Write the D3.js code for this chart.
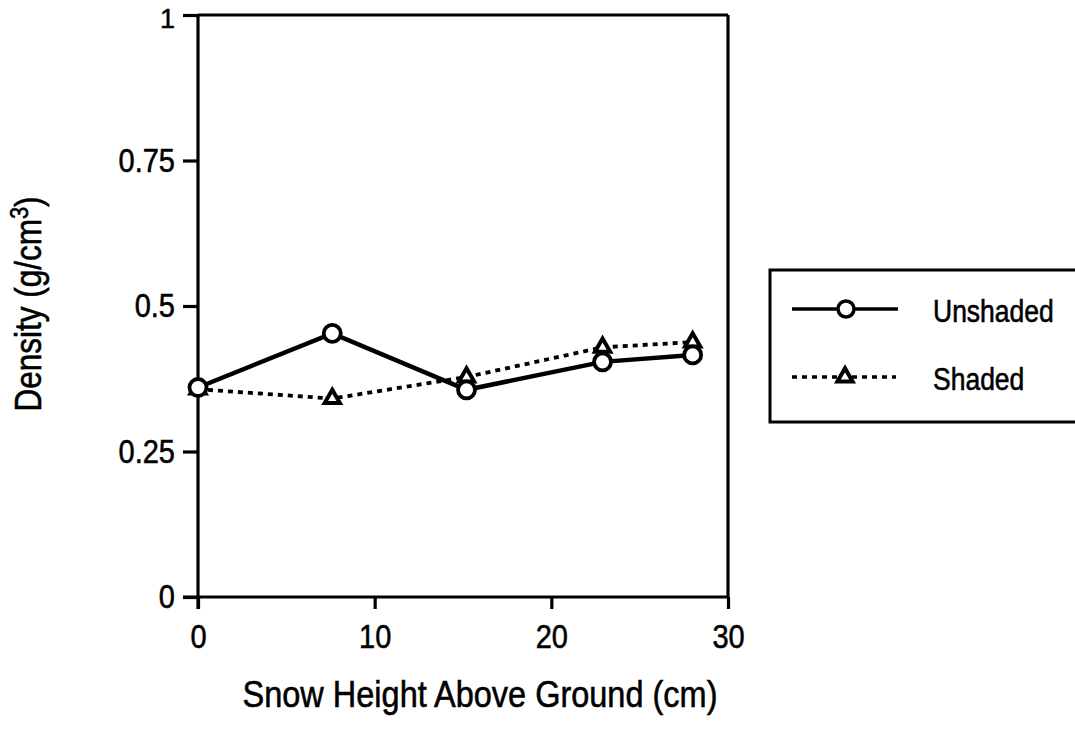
<!DOCTYPE html>
<html>
<head>
<meta charset="utf-8">
<script src="https://cdn.jsdelivr.net/npm/d3@7"></script>
<style>
  html, body { margin: 0; padding: 0; background: #fff; }
  svg { display: block; }
  text { font-family: "Liberation Sans", Arial, Helvetica, sans-serif; fill: #000; stroke: #000; stroke-width: 0.5px; }
</style>
</head>
<body>
<svg id="chart" width="1075" height="744"></svg>
<script>
// ---- data ----
const heights = [0, 7.6, 15.2, 22.9, 28];
const unshaded = [0.360, 0.453, 0.356, 0.404, 0.416];
const shaded = [0.357, 0.341, 0.378, 0.429, 0.438];
const xTicks = [0, 10, 20, 30];
const yTicks = [0, 0.25, 0.5, 0.75, 1];
const yTickLabels = ["0", "0.25", "0.5", "0.75", "1"];
const seriesNames = ["Unshaded", "Shaded"];

const svg = d3.select("#chart");
const x = d3.scaleLinear().domain([0, 30]).range([198, 728]);
const y = d3.scaleLinear().domain([0, 1]).range([597, 15]);

const axisW = 3.2;
const sy = 1.15; // vertical stretch of lettering

// frame (top and right lines)
svg.append("line").attr("x1", x(0)).attr("x2", x(30)).attr("y1", y(1)).attr("y2", y(1))
  .attr("stroke", "#000").attr("stroke-width", axisW);
svg.append("line").attr("x1", x(30)).attr("x2", x(30)).attr("y1", y(1)).attr("y2", y(0))
  .attr("stroke", "#000").attr("stroke-width", axisW);

// left axis
const yAxis = d3.axisLeft(y).tickValues(yTicks).tickSize(15).tickPadding(8)
  .tickFormat((d, i) => yTickLabels[i]);
const gy = svg.append("g").attr("transform", `translate(${x(0)},0)`).call(yAxis);
gy.select(".domain").attr("stroke-width", axisW).attr("d", `M0,${y(1)}V${y(0) + 12}`);
gy.selectAll(".tick line").attr("stroke-width", axisW);
gy.selectAll(".tick text").attr("font-family", "Liberation Sans, Arial, sans-serif")
  .attr("font-size", d => d === 1 ? 27 : 29)
  .attr("y", d => d === 1 ? 3.4 : 0)
  .attr("transform", d => d === 1 ? null : `scale(1,${sy})`);

// bottom axis
const xAxis = d3.axisBottom(x).tickValues(xTicks).tickSize(12).tickPadding(10);
const gx = svg.append("g").attr("transform", `translate(0,${y(0)})`).call(xAxis);
gx.select(".domain").attr("stroke-width", axisW).attr("d", `M${x(0) - 15},0H${x(30)}`);
gx.selectAll(".tick line").attr("stroke-width", axisW);
gx.selectAll(".tick text").attr("font-size", 29).attr("font-family", "Liberation Sans, Arial, sans-serif")
  .attr("y", 23.5).attr("transform", `scale(1,${sy})`);

// axis titles
svg.append("text").attr("transform", `translate(480,707) scale(1,${sy})`).attr("text-anchor", "middle")
  .attr("font-size", 32.5).text("Snow Height Above Ground (cm)");
const yt = svg.append("text").attr("transform", `translate(41,304) rotate(-90) scale(1,${sy})`)
  .attr("text-anchor", "middle").attr("font-size", 31.5);
yt.append("tspan").text("Density (g/cm");
yt.append("tspan").attr("dy", -11).attr("font-size", 22).text("3");
yt.append("tspan").attr("dy", 11).text(")");

// lines
const line = d3.line().x((d, i) => x(heights[i])).y(d => y(d));
svg.append("path").datum(shaded).attr("d", line).attr("fill", "none")
  .attr("stroke", "#000").attr("stroke-width", 3.8).attr("stroke-dasharray", "5,5");
svg.append("path").datum(unshaded).attr("d", line).attr("fill", "none")
  .attr("stroke", "#000").attr("stroke-width", 4.5);

const tri = d3.symbol().type(d3.symbolTriangle).size(100);
svg.selectAll(".tri").data(shaded).enter().append("path")
  .attr("transform", (d, i) => `translate(${x(heights[i])},${y(d)})`)
  .attr("d", tri).attr("fill", "#fff").attr("stroke", "#000").attr("stroke-width", 4);
svg.selectAll(".circ").data(unshaded).enter().append("circle")
  .attr("cx", (d, i) => x(heights[i])).attr("cy", d => y(d)).attr("r", 8.5)
  .attr("fill", "#fff").attr("stroke", "#000").attr("stroke-width", 3.8);

// legend
const lg = svg.append("g");
lg.append("rect").attr("x", 770).attr("y", 270).attr("width", 330).attr("height", 152)
  .attr("fill", "#fff").attr("stroke", "#000").attr("stroke-width", 3);
lg.append("line").attr("x1", 792).attr("x2", 898).attr("y1", 309).attr("y2", 309)
  .attr("stroke", "#000").attr("stroke-width", 3.5);
lg.append("circle").attr("cx", 846).attr("cy", 309).attr("r", 8)
  .attr("fill", "#fff").attr("stroke", "#000").attr("stroke-width", 3.5);
lg.append("line").attr("x1", 792).attr("x2", 896).attr("y1", 377).attr("y2", 377)
  .attr("stroke", "#000").attr("stroke-width", 3.5).attr("stroke-dasharray", "5,5");
lg.append("path").attr("transform", "translate(845,377)").attr("d", tri)
  .attr("fill", "#fff").attr("stroke", "#000").attr("stroke-width", 4);
lg.append("text").attr("transform", `translate(933,322) scale(1,${sy})`).attr("font-size", 26.5).text(seriesNames[0]);
lg.append("text").attr("transform", `translate(933,390) scale(1,${sy})`).attr("font-size", 26.5).text(seriesNames[1]);
</script>
</body>
</html>
